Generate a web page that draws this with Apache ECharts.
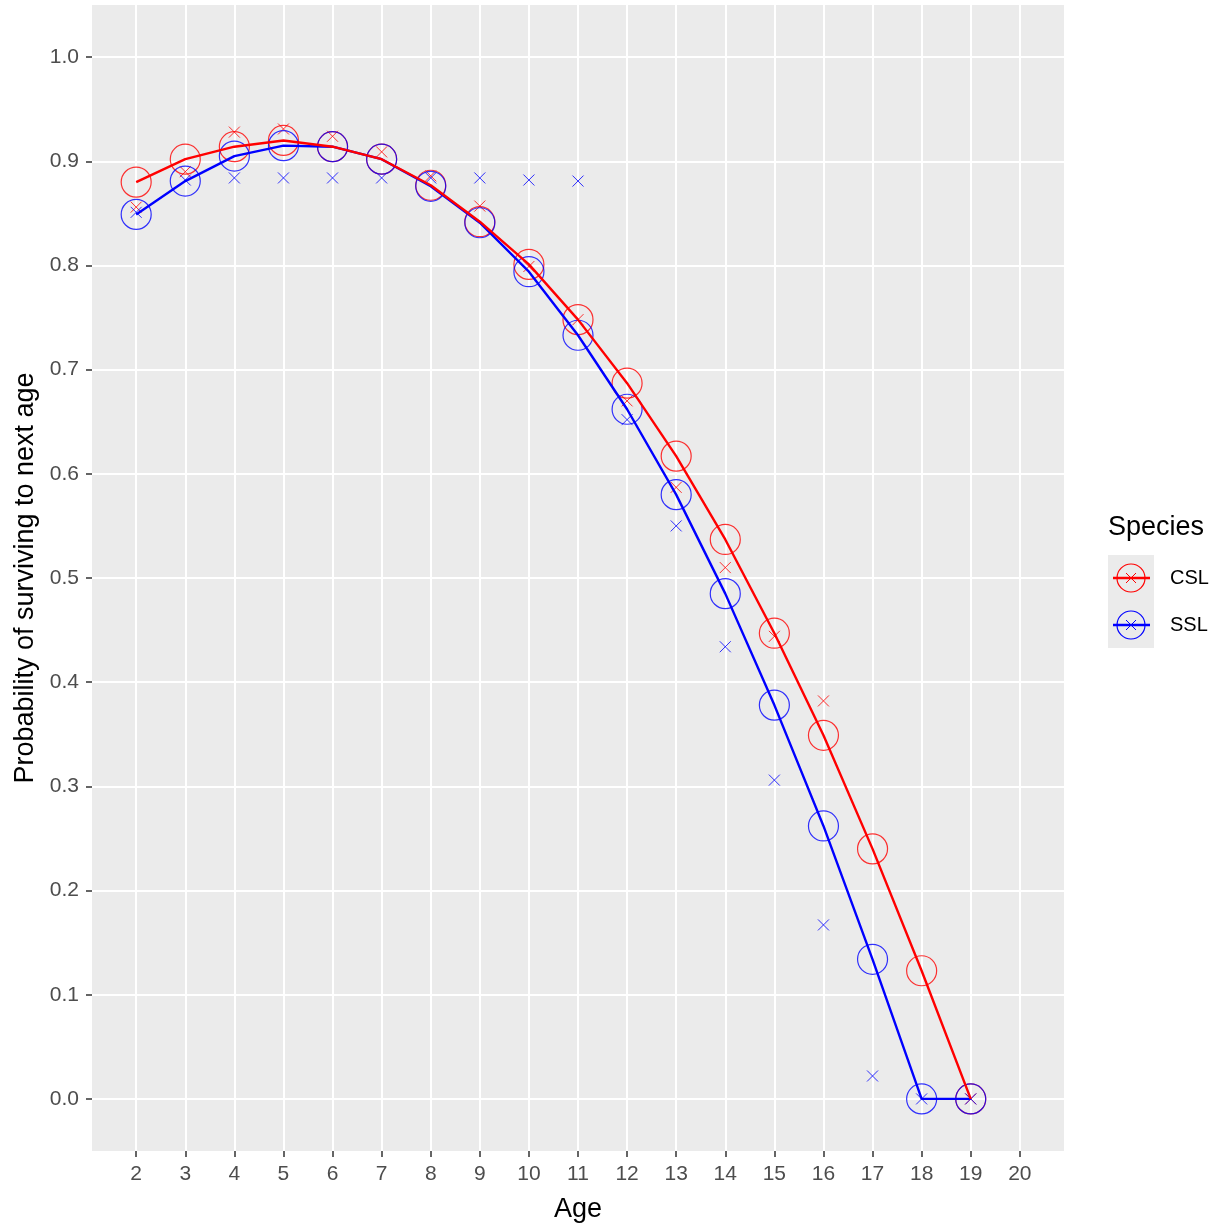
<!DOCTYPE html>
<html>
<head>
<meta charset="utf-8">
<script src="https://cdn.jsdelivr.net/npm/echarts@6/dist/echarts.min.js"></script>
<style>
  html, body { margin: 0; padding: 0; background: #fff; }
  #chart { width: 1223px; height: 1230px; }
</style>
</head>
<body>
<div id="chart"></div>
<script>
// ages and survival probabilities
var ages = [2, 3, 4, 5, 6, 7, 8, 9, 10, 11, 12, 13, 14, 15, 16, 17, 18, 19];
// fitted curves (circles + line)
var cslFit = [0.880, 0.902, 0.914, 0.920, 0.914, 0.902, 0.877, 0.842, 0.801, 0.748, 0.687, 0.617, 0.537, 0.447, 0.349, 0.240, 0.123, 0.0];
var sslFit = [0.849, 0.881, 0.905, 0.915, 0.914, 0.902, 0.876, 0.841, 0.794, 0.733, 0.662, 0.580, 0.485, 0.378, 0.262, 0.134, 0.0, 0.0];
// observed values (crosses)
var cslObs = [0.856, 0.890, 0.928, 0.931, 0.924, 0.909, 0.886, 0.857, 0.799, 0.748, 0.670, 0.587, 0.510, 0.444, 0.382, null, null, 0.0];
var sslObs = [0.851, 0.882, 0.884, 0.884, 0.884, 0.884, 0.884, 0.884, 0.882, 0.881, 0.652, 0.550, 0.434, 0.306, 0.167, 0.022, 0.0, 0.0];
// axis ticks
var xTicks = [2, 3, 4, 5, 6, 7, 8, 9, 10, 11, 12, 13, 14, 15, 16, 17, 18, 19, 20];
var yTicks = [0, 0.1, 0.2, 0.3, 0.4, 0.5, 0.6, 0.7, 0.8, 0.9, 1.0];

var RED = '#FF0000', BLUE = '#0000FF';
var CROSS = 'path://M0,0L10,10M10,0L0,10';
var FONT = '"Liberation Sans", Arial, sans-serif';

function pairs(ys) {
  var out = [];
  for (var i = 0; i < ages.length; i++) {
    if (ys[i] !== null) out.push([ages[i], ys[i]]);
  }
  return out;
}

// legend key drawn with graphic elements (line + circle + cross)
function legendKey(cy, color, label) {
  return [
    { type: 'line', shape: { x1: 1113, y1: cy, x2: 1150, y2: cy }, style: { stroke: color, lineWidth: 2.4 } },
    { type: 'circle', shape: { cx: 1131, cy: cy, r: 14 }, style: { fill: 'none', stroke: color, lineWidth: 1.2 } },
    { type: 'line', shape: { x1: 1126, y1: cy - 5, x2: 1136, y2: cy + 5 }, style: { stroke: color, lineWidth: 1 } },
    { type: 'line', shape: { x1: 1136, y1: cy - 5, x2: 1126, y2: cy + 5 }, style: { stroke: color, lineWidth: 1 } },
    { type: 'text', x: 1170, y: cy, style: { text: label, font: '20px ' + FONT, fill: '#000', textVerticalAlign: 'middle' } }
  ];
}

var chart = echarts.init(document.getElementById('chart'), null, { renderer: 'canvas' });

var option = {
  backgroundColor: '#ffffff',
  animation: false,
  textStyle: { fontFamily: FONT },
  grid: { left: 92, right: 159, top: 5, bottom: 79, show: true, backgroundColor: '#EBEBEB', borderWidth: 0 },
  xAxis: {
    type: 'value',
    min: 1.1, max: 20.9,
    name: 'Age', nameLocation: 'middle', nameGap: 45,
    nameTextStyle: { fontSize: 27, color: '#000', fontFamily: FONT },
    axisLine: { show: false, onZero: false },
    axisTick: { show: true, length: 6, customValues: xTicks, lineStyle: { color: '#333', width: 1.5 } },
    axisLabel: { customValues: xTicks, fontSize: 21, color: '#4D4D4D', margin: 13, fontFamily: FONT },
    splitLine: { show: true, lineStyle: { color: '#fff', width: 2 } }
  },
  yAxis: {
    type: 'value',
    min: -0.05, max: 1.05,
    name: 'Probability of surviving to next age', nameLocation: 'middle', nameGap: 53,
    nameTextStyle: { fontSize: 27, color: '#000', fontFamily: FONT },
    axisLine: { show: false, onZero: false },
    axisTick: { show: true, length: 6, customValues: yTicks, lineStyle: { color: '#333', width: 1.5 } },
    axisLabel: { customValues: yTicks, fontSize: 21, color: '#4D4D4D', margin: 13, fontFamily: FONT,
      formatter: function (v) { return v.toFixed(1); } },
    splitLine: { show: true, lineStyle: { color: '#fff', width: 2 } }
  },
  series: [
    { name: 'CSL obs', type: 'scatter', data: pairs(cslObs), symbol: CROSS, symbolSize: 11,
      itemStyle: { color: 'transparent', borderColor: RED, borderWidth: 1 }, z: 2 },
    { name: 'SSL obs', type: 'scatter', data: pairs(sslObs), symbol: CROSS, symbolSize: 11,
      itemStyle: { color: 'transparent', borderColor: BLUE, borderWidth: 1 }, z: 2 },
    { name: 'CSL', type: 'scatter', data: pairs(cslFit), symbol: 'circle', symbolSize: 30,
      itemStyle: { color: 'transparent', borderColor: RED, borderWidth: 1.2 }, z: 3 },
    { name: 'SSL', type: 'scatter', data: pairs(sslFit), symbol: 'circle', symbolSize: 30,
      itemStyle: { color: 'transparent', borderColor: BLUE, borderWidth: 1.2 }, z: 3 },
    { name: 'SSL line', type: 'line', data: pairs(sslFit), showSymbol: false, smooth: false,
      lineStyle: { color: BLUE, width: 2.4 }, z: 4 },
    { name: 'CSL line', type: 'line', data: pairs(cslFit), showSymbol: false, smooth: false,
      lineStyle: { color: RED, width: 2.4 }, z: 5 }
  ],
  graphic: [
    { type: 'text', x: 1108, y: 528, style: { text: 'Species', font: '27px ' + FONT, fill: '#000', textVerticalAlign: 'middle' } },
    { type: 'rect', shape: { x: 1108, y: 555, width: 46, height: 93 }, style: { fill: '#EBEBEB' } }
  ].concat(legendKey(578, RED, 'CSL')).concat(legendKey(625, BLUE, 'SSL'))
};

chart.setOption(option);
</script>
</body>
</html>
